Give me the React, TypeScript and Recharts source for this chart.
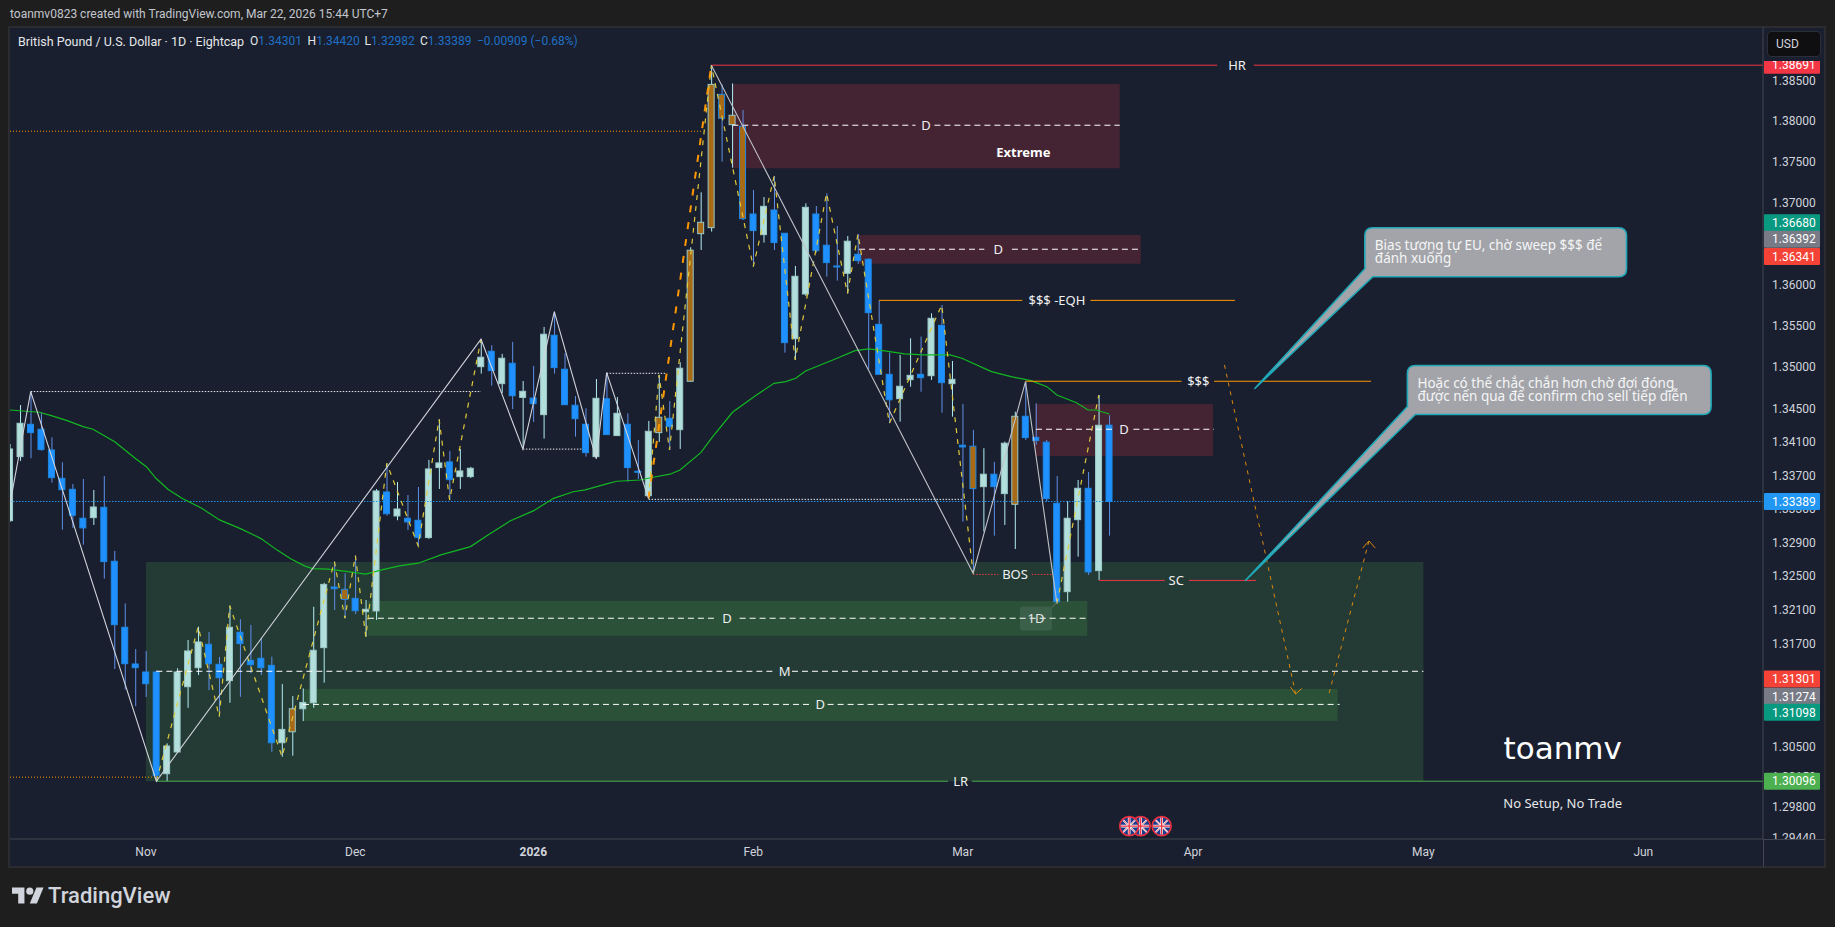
import React from 'react';
import {
  ComposedChart,
  Bar,
  Line,
  XAxis,
  YAxis,
  ReferenceArea,
  ReferenceLine,
  ReferenceDot,
} from 'recharts';

// GBP/USD daily candles
const opens = [
  1.3316, 1.33924, 1.34312, 1.34252, 1.34004, 1.33665, 1.33534, 1.33189, 1.33196, 1.33319,
  1.32678, 1.31898, 1.31466, 1.31372, 1.31372, 1.30183, 1.30436, 1.31199, 1.31422, 1.31698,
  1.31462, 1.3127, 1.31839, 1.31509, 1.31533, 1.3145, 1.30544, 1.30672, 1.30941, 1.31011,
  1.31658, 1.32373, 1.32346, 1.32239, 1.32081, 1.3209, 1.33502, 1.33216, 1.33189, 1.33165,
  1.32959, 1.33793, 1.33861, 1.33685, 1.33685, 1.35005, 1.35191, 1.348, 1.35046, 1.34635,
  1.34627, 1.34427, 1.35385, 1.34974, 1.3454, 1.34312, 1.33924, 1.34619, 1.34176, 1.34312,
  1.33749, 1.33457, 1.34212, 1.34384, 1.34247, 1.34829, 1.36619, 1.36692, 1.3833, 1.37956,
  1.37937, 1.36859, 1.36607, 1.36908, 1.36624, 1.35343, 1.35884, 1.36859, 1.36478, 1.36225,
  1.36136, 1.36368, 1.36307, 1.35517, 1.34913, 1.34619, 1.34848, 1.34913, 1.34896, 1.35505,
  1.348, 1.34061, 1.34049, 1.33565, 1.33714, 1.33482, 1.33355, 1.34408, 1.34156, 1.34097,
  1.33367, 1.32318, 1.33172, 1.33546, 1.32567, 1.34301,
];
const closes = [
  1.34016, 1.34324, 1.34212, 1.34008, 1.33673, 1.33529, 1.33224, 1.33074, 1.33323, 1.32674,
  1.31928, 1.31469, 1.31422, 1.31234, 1.30164, 1.30506, 1.31372, 1.31619, 1.31725, 1.31469,
  1.31304, 1.31898, 1.31705, 1.31458, 1.31422, 1.30544, 1.307, 1.30941, 1.31015, 1.31627,
  1.32404, 1.32353, 1.32227, 1.32093, 1.3211, 1.33514, 1.33243, 1.33299, 1.33145, 1.32959,
  1.33777, 1.33849, 1.33649, 1.33753, 1.33785, 1.35119, 1.34957, 1.35107, 1.34655, 1.34708,
  1.34559, 1.35397, 1.34993, 1.34547, 1.34379, 1.33972, 1.34624, 1.34188, 1.34444, 1.33793,
  1.33741, 1.34228, 1.34396, 1.34283, 1.34986, 1.36417, 1.36758, 1.38453, 1.38035, 1.38072,
  1.36802, 1.36656, 1.36953, 1.3651, 1.35295, 1.361, 1.36941, 1.36412, 1.36266, 1.36217,
  1.36527, 1.3629, 1.35658, 1.34913, 1.34606, 1.34769, 1.34901, 1.34872, 1.3559, 1.34812,
  1.34853, 1.3404, 1.33542, 1.33714, 1.33565, 1.34085, 1.34408, 1.34152, 1.34116, 1.33422,
  1.32199, 1.33189, 1.33546, 1.32551, 1.343, 1.33389,
];
const highs = [
  1.34076, 1.34543, 1.34703, 1.34447, 1.34156, 1.33857, 1.33598, 1.33657, 1.33526, 1.33693,
  1.32801, 1.3218, 1.31642, 1.31619, 1.31392, 1.30537, 1.31416, 1.31748, 1.31905, 1.31842,
  1.31548, 1.32152, 1.31992, 1.31925, 1.31768, 1.31552, 1.3123, 1.31089, 1.31179, 1.3214,
  1.32423, 1.32674, 1.32536, 1.32745, 1.32219, 1.33538, 1.33845, 1.33621, 1.33466, 1.33562,
  1.33885, 1.34372, 1.33993, 1.34016, 1.33801, 1.35336, 1.35264, 1.35159, 1.35304, 1.34832,
  1.35014, 1.35485, 1.3567, 1.35167, 1.34651, 1.34504, 1.34856, 1.34933, 1.34639, 1.34444,
  1.34124, 1.34352, 1.34905, 1.34591, 1.35058, 1.36453, 1.37125, 1.38691, 1.38453, 1.38465,
  1.38137, 1.37153, 1.37067, 1.37325, 1.36624, 1.36225, 1.3699, 1.36957, 1.37112, 1.36713,
  1.36591, 1.36616, 1.36319, 1.35803, 1.35174, 1.35147, 1.35348, 1.35368, 1.3565, 1.35751,
  1.35074, 1.34555, 1.34244, 1.34025, 1.33861, 1.34104, 1.34463, 1.34824, 1.34563, 1.34124,
  1.33693, 1.33394, 1.33645, 1.33741, 1.34663, 1.3442,
];
const lows = [
  1.33145, 1.33873, 1.33905, 1.33996, 1.33613, 1.33053, 1.33074, 1.32875, 1.33109, 1.32472,
  1.31407, 1.31168, 1.30972, 1.31078, 1.30096, 1.30098, 1.30436, 1.30952, 1.31336, 1.31159,
  1.30847, 1.31011, 1.31081, 1.31356, 1.31336, 1.30439, 1.30381, 1.30393, 1.30797, 1.30952,
  1.31246, 1.32101, 1.32004, 1.32054, 1.31787, 1.31984, 1.3322, 1.33165, 1.3305, 1.3286,
  1.32943, 1.33538, 1.33406, 1.33538, 1.33669, 1.34921, 1.34776, 1.34688, 1.34495, 1.34025,
  1.3434, 1.3414, 1.34921, 1.34543, 1.34164, 1.33924, 1.339, 1.34184, 1.34172, 1.33625,
  1.33657, 1.33426, 1.341, 1.34004, 1.34016, 1.34826, 1.3642, 1.36644, 1.37501, 1.37427,
  1.36786, 1.36217, 1.3651, 1.3642, 1.35174, 1.35086, 1.35859, 1.36388, 1.36095, 1.36047,
  1.35892, 1.3625, 1.34974, 1.34911, 1.34324, 1.34343, 1.34764, 1.34703, 1.34845, 1.34451,
  1.34403, 1.33148, 1.32536, 1.3303, 1.32982, 1.33109, 1.32824, 1.34124, 1.34064, 1.33386,
  1.3218, 1.32199, 1.32733, 1.32516, 1.32457, 1.32982,
];
const orangeBars = [27, 32, 62, 65, 66, 67, 68, 69, 70, 92, 96];

// moving average readings
const maBars = [
  0.02, 2.84, 3.97, 5.48, 7, 7.95, 10.02, 12.09, 13.04, 13.96, 15.1, 16.44, 18.33, 20.03, 22.08,
  23.99, 25.5, 26.82, 28.14, 28.9, 30.39, 32.3, 34, 35.51, 37.21, 39.01, 41.17, 44, 45.52, 47.77,
  50.04, 51.93, 53.82, 54.95, 57, 57.96, 60.19, 61.43, 63.05, 64, 65.99, 67.13, 69.02, 71.07,
  72.98, 74.11, 75.05, 76, 79, 80.72, 82.05, 83.55, 85.45, 87.31, 89.79, 90.92, 93.75, 95.62,
  97.53, 99.04, 100, 101.87, 102.97, 103.73, 105,
];
const maValues = [
  1.34483, 1.34456, 1.34415, 1.34355, 1.34283, 1.34252, 1.34103, 1.33893, 1.33804, 1.33665,
  1.33534, 1.33426, 1.33307, 1.33169, 1.33062, 1.32947, 1.32813, 1.32707, 1.32623, 1.32591,
  1.32584, 1.32556, 1.32525, 1.32576, 1.32623, 1.32655, 1.32753, 1.32852, 1.32979, 1.33157,
  1.33279, 1.33426, 1.33505, 1.33526, 1.33598, 1.3363, 1.33645, 1.33678, 1.33714, 1.33765,
  1.33972, 1.34164, 1.34456, 1.34643, 1.34804, 1.34824, 1.34865, 1.34953, 1.35106, 1.35198,
  1.35219, 1.35195, 1.35159, 1.35147, 1.35147, 1.35107, 1.34945, 1.34884, 1.34836, 1.34764,
  1.34663, 1.34571, 1.34483, 1.34483, 1.34435,
];

// swing drawings: [bar, price]
const whiteSwingA = [[0, 1.33347], [2, 1.34705], [14, 1.30096], [45, 1.35336], [49, 1.34014], [52, 1.3567], [56, 1.339], [57, 1.34933], [61, 1.33426]];
const whiteSwingB = [[67, 1.38691], [92, 1.32536], [97, 1.34824], [100, 1.3218]];
const yellowSwingA = [[14, 1.30096], [18, 1.31905], [20, 1.30847], [21, 1.32152], [26, 1.30381], [31, 1.32674], [32, 1.32004], [33, 1.32745], [34, 1.31787], [36, 1.33845], [39, 1.3286], [41, 1.34372], [42, 1.33406], [45, 1.35336]];
const yellowSwingB = [[61, 1.33426], [62, 1.34905], [63, 1.34004], [67, 1.38691], [71, 1.36217], [73, 1.37325], [75, 1.35086], [78, 1.37112], [80, 1.35892], [81, 1.36616], [84, 1.34324], [89, 1.35751], [92, 1.32536]];
const yellowSwingC = [[100, 1.3218], [104, 1.34663]];
const orangeSwing = [[61, 1.33426], [67, 1.38691]];
const projectionDown = [[116, 1.35026], [122.8, 1.31113]];
const projectionUp = [[126, 1.31125], [129.8, 1.32919]];
const arrowDown = [[122.3, 1.31196], [122.8, 1.31113], [123.4, 1.3118]];
const arrowUp = [[129.2, 1.32835], [129.8, 1.32919], [130.4, 1.32835]];

// zones: [fromBar, toBar, bottom, top]
const baseZone = [13, 135, 1.30096, 1.32669];
const demandZones = [[34.2, 102.9, 1.31799, 1.32207], [28.1, 126.8, 1.30797, 1.31171]];
const supplyZones = [[69, 106, 1.37421, 1.38457], [81.1, 108, 1.36253, 1.36603], [97.9, 114.9, 1.33933, 1.34555]];

// level segments: [fromBar, toBar, price]
const XMAX = 167.43;
const midSegments = [
  [69, 86.5, 1.37949], [88.3, 106, 1.37949],
  [81.1, 93.07, 1.36429], [95.7, 108, 1.36429],
  [98, 105.6, 1.34252], [107.3, 115, 1.34252],
  [34.2, 67.3, 1.32004], [69.7, 103, 1.32004],
  [14, 73.2, 1.3138], [74.7, 135, 1.3138],
  [28, 76.6, 1.30992], [78.1, 127, 1.30992],
];
const redSegments = [[67, 115.3, 1.38691], [118.8, XMAX, 1.38691], [104, 110.3, 1.32451], [112.6, 119, 1.32451]];
const orangeSegments = [[83, 96.7, 1.35807], [103.2, 117, 1.35807], [97, 111.9, 1.34829], [115, 130, 1.34829]];
const greenSegments = [[14, 89.6, 1.30096], [91.9, XMAX, 1.30096]];
const bosSegments = [[92, 94.4, 1.32522], [97.6, 99.6, 1.32522]];
const whiteDotted = [[2, 45, 1.34705], [49, 54.6, 1.34014], [57, 62.7, 1.34925], [61, 91, 1.33414]];
const orangeDotted = [[0.02, 66, 1.37875], [0.02, 14, 1.30143]];
const lastPriceDotted = [[0.02, XMAX, 1.33389]];

// text on the chart: [text, bar, price]
const levelLabels: [string, number, number][] = [
  ['HR', 117.2, 1.38691], ['D', 87.5, 1.37949], ['D', 94.4, 1.36429], ['$$$ -EQH', 100, 1.35807],
  ['$$$', 113.5, 1.34829], ['D', 106.4, 1.34252], ['BOS', 96, 1.32522], ['SC', 111.4, 1.32451],
  ['D', 68.5, 1.32004], ['M', 74, 1.3138], ['D', 77.4, 1.30992], ['LR', 90.8, 1.30096],
];

// axis ticks
const monthBars = [13, 33, 50, 71, 91, 113, 135, 156];
const monthLabels = ['Nov', 'Dec', '2026', 'Feb', 'Mar', 'Apr', 'May', 'Jun'];
const priceTicks = [
  1.385, 1.38, 1.375, 1.37, 1.36, 1.355, 1.35, 1.345, 1.341, 1.337, 1.333, 1.329, 1.325, 1.321,
  1.317, 1.305, 1.3015, 1.298, 1.2944,
];
const tagPrices = [1.38691, 1.3668, 1.36392, 1.36341, 1.33389, 1.31301, 1.31274, 1.31098, 1.30096];
const tagColors = ['#f23645', '#089981', '#787b86', '#f44336', '#2196f3', '#f44336', '#787b86', '#089981', '#4caf50'];
const tagShifts = [0, -6, -13, 0, 0, 1, 16, 17, 0];
const flagBars = [108, 106.9, 110];

const UI_FONT = "Roboto, 'Noto Sans', sans-serif";
const TEXT_FONT = "'Noto Sans', 'DejaVu Sans', sans-serif";
const PANEL = '#191f2e';
const YMIN = 1.29426;
const YMAX = 1.39165;

const toPoints = (pairs: number[][]) => pairs.map(([i, p]) => ({ i, p }));

const candles = highs.map((h, i) => {
  const o = opens[i];
  const c = closes[i];
  return {
    i,
    wick: [lows[i], h],
    body: [Math.min(o, c), Math.max(o, c)],
    up: c >= o,
    orange: orangeBars.includes(i),
  };
});
const maPoints = maBars.map((i, k) => ({ i, p: maValues[k] }));

const CandleBody = ({ x, y, width, height, payload }: any) => {
  const up = payload.up;
  const fill = payload.orange ? '#a86a14' : up ? '#b2dfdb' : '#1e90ff';
  const stroke = up ? '#9cc9c9' : '#1e88e5';
  return <rect x={x} y={y} width={width} height={Math.max(height, 1)} fill={fill} stroke={stroke} strokeWidth={1} />;
};

const CandleWick = ({ x, y, width, height, payload }: any) => (
  <rect x={x} y={y} width={width} height={height} fill={payload.up ? '#b2ebf2' : '#5f8fe8'} />
);

const PriceTick = ({ x, y, payload }: any) => {
  const id = `price-clip-${payload.value}`;
  // the bottom tick is cut by the time axis, two others sit mostly under a price tag
  let top = y - 12;
  let bottom = Math.min(y + 12, 839);
  if (payload.value === 1.333) top = 510;
  if (payload.value === 1.3015) bottom = 773;
  return (
    <g>
      <clipPath id={id}>
        <rect x={x - 4} y={top} width={60} height={bottom - top} />
      </clipPath>
      <text x={x + 1} y={y} dy="0.35em" fontSize={12} fontFamily={UI_FONT} fill="#d1d4dc" clipPath={`url(#${id})`}>
        {payload.value.toFixed(5)}
      </text>
    </g>
  );
};

const MonthTick = ({ x, y, payload }: any) => {
  const label = monthLabels[monthBars.indexOf(payload.value)];
  return (
    <text x={x} y={y + 9} textAnchor="middle" fontSize={12} fontWeight={label === '2026' ? 700 : 400} fontFamily={UI_FONT} fill="#d1d4dc">
      {label}
    </text>
  );
};

const PriceTag = ({ cx, cy, k }: any) => (
  <g>
    <rect x={cx + 1} y={cy + tagShifts[k] - 8.5} width={56} height={17} fill={tagColors[k]} rx={1} />
    <text x={cx + 9} y={cy + tagShifts[k]} dy="0.35em" fontSize={12} fontFamily={UI_FONT} fill="#ffffff">
      {tagPrices[k].toFixed(5)}
    </text>
  </g>
);

const Flag = ({ cx, cy, k }: any) => {
  const id = `flag-clip-${k}`;
  return (
    <g>
      <clipPath id={id}>
        <circle cx={cx} cy={cy} r={8.5} />
      </clipPath>
      <circle cx={cx} cy={cy} r={9.5} fill="#1d3b8b" stroke="#e8303f" strokeWidth={1.6} />
      <g clipPath={`url(#${id})`}>
        <path d={`M${cx - 9} ${cy - 9}L${cx + 9} ${cy + 9}M${cx + 9} ${cy - 9}L${cx - 9} ${cy + 9}`} stroke="#fff" strokeWidth={1.8} />
        <path d={`M${cx - 9} ${cy - 9}L${cx + 9} ${cy + 9}M${cx + 9} ${cy - 9}L${cx - 9} ${cy + 9}`} stroke="#e8303f" strokeWidth={0.6} />
        <path d={`M${cx} ${cy - 9}V${cy + 9}M${cx - 9} ${cy}H${cx + 9}`} stroke="#fff" strokeWidth={2.6} />
        <path d={`M${cx} ${cy - 9}V${cy + 9}M${cx - 9} ${cy}H${cx + 9}`} stroke="#e8303f" strokeWidth={1.3} />
      </g>
    </g>
  );
};

// speech bubble anchored at its tip
const Callout = ({ cx, cy, dx, dy, w, h, lines }: any) => {
  const x0 = cx + dx;
  const y0 = cy + dy;
  const x1 = x0 + w;
  const y1 = y0 + h;
  const r = 8;
  const d = `M${cx} ${cy}L${x0} ${y1 - r}V${y0 + r}Q${x0} ${y0} ${x0 + r} ${y0}H${x1 - r}Q${x1} ${y0} ${x1} ${y0 + r}V${y1 - r}Q${x1} ${y1} ${x1 - r} ${y1}H${x0 + r}Z`;
  return (
    <g>
      <path d={d} fill="#a2a4aa" stroke="#1fa8b8" strokeWidth={1.6} strokeLinejoin="round" />
      {lines.map((t: string, n: number) => (
        <text key={n} x={x0 + 10} y={y0 + 18 + n * 13.5} dy="0.3em" fontSize={13.5} fontFamily={TEXT_FONT} fill="#f5f5f5">
          {t}
        </text>
      ))}
    </g>
  );
};

const segmentLines = (segments: number[][], style: any, prefix: string) =>
  segments.map(([from, to, price], n) => (
    <ReferenceLine
      key={`${prefix}-${n}`}
      segment={[{ x: from, y: price }, { x: to, y: price }]}
      {...style}
    />
  ));

const swingLine = (pairs: number[][], key: string, stroke: string, width: number, dash?: string) => (
  <Line
    key={key}
    data={toPoints(pairs)}
    dataKey="p"
    stroke={stroke}
    strokeWidth={width}
    strokeDasharray={dash}
    dot={false}
    activeDot={false}
    legendType="none"
    isAnimationActive={false}
  />
);

const App = () => {
  return (
    <div style={{ position: 'absolute', left: 0, top: 0, width: 1835, height: 927, background: '#1e1e1e', overflow: 'hidden', fontFamily: UI_FONT }}>
      <div style={{ position: 'absolute', left: 10, top: 7, fontSize: 12, color: '#c3c6ce', whiteSpace: 'nowrap' }}>
        toanmv0823 created with TradingView.com, Mar 22, 2026 15:44 UTC+7
      </div>

      {/* panel */}
      <div style={{ position: 'absolute', left: 8, top: 26, width: 1818, height: 842, boxSizing: 'border-box', background: PANEL, border: '2px solid #2b2c30' }} />

      <div style={{ position: 'absolute', left: 0, top: 0 }}>
        <ComposedChart
          width={1835}
          height={927}
          data={candles}
          margin={{ top: 27, right: 0, bottom: 60, left: 10 }}
          barGap={0}
        >
          <XAxis
            dataKey="i"
            type="number"
            domain={[0.02, XMAX]}
            allowDataOverflow
            ticks={monthBars}
            interval={0}
            height={28}
            stroke="#434651"
            tickLine={false}
            tick={<MonthTick />}
          />
          <XAxis xAxisId="wick" dataKey="i" type="number" domain={[0.02, XMAX]} allowDataOverflow hide />
          <XAxis xAxisId="body" dataKey="i" type="number" domain={[0.02, XMAX]} allowDataOverflow hide />
          <YAxis
            orientation="right"
            scale="log"
            domain={[YMIN, YMAX]}
            allowDataOverflow
            ticks={priceTicks}
            interval={0}
            width={72}
            stroke="#434651"
            tickLine={false}
            tick={<PriceTick />}
          />

          <ReferenceArea x1={baseZone[0]} x2={baseZone[1]} y1={baseZone[2]} y2={baseZone[3]} fill="#4caf50" fillOpacity={0.2} stroke="none" />
          {demandZones.map((z, n) => (
            <ReferenceArea key={`demand-${n}`} x1={z[0]} x2={z[1]} y1={z[2]} y2={z[3]} fill="#4caf50" fillOpacity={0.2} stroke="none" />
          ))}
          {supplyZones.map((z, n) => (
            <ReferenceArea key={`supply-${n}`} x1={z[0]} x2={z[1]} y1={z[2]} y2={z[3]} fill="#f23645" fillOpacity={0.2} stroke="none" />
          ))}

          {segmentLines(orangeDotted, { stroke: '#ff9800', strokeDasharray: '1 2' }, 'odot')}
          {segmentLines(whiteDotted, { stroke: '#e8eaf0', strokeDasharray: '1.5 1.5' }, 'wdot')}
          {segmentLines(lastPriceDotted, { stroke: '#2196f3', strokeDasharray: '1.5 1.5' }, 'last')}

          <Line data={maPoints} dataKey="p" stroke="#12b822" strokeWidth={1.2} dot={false} activeDot={false} legendType="none" isAnimationActive={false} />

          <Bar xAxisId="wick" dataKey="wick" barSize={1} shape={<CandleWick />} isAnimationActive={false} />
          <Bar xAxisId="body" dataKey="body" barSize={6} shape={<CandleBody />} isAnimationActive={false} />

          {segmentLines(midSegments, { stroke: '#ffffff', strokeDasharray: '6 4' }, 'mid')}
          {segmentLines(redSegments, { stroke: '#f23645' }, 'red')}
          {segmentLines(orangeSegments, { stroke: '#ff9800' }, 'orange')}
          {segmentLines(greenSegments, { stroke: '#4caf50' }, 'green')}
          {segmentLines(bosSegments, { stroke: '#f23645', strokeDasharray: '1.5 1.5' }, 'bos')}

          {swingLine(yellowSwingA, 'ya', '#e0c93c', 1.2, '5 6')}
          {swingLine(yellowSwingB, 'yb', '#e0c93c', 1.2, '5 6')}
          {swingLine(yellowSwingC, 'yc', '#e0c93c', 1.2, '5 6')}
          {swingLine(orangeSwing, 'orange-swing', '#ff9800', 2, '7 10')}
          {swingLine(whiteSwingA, 'wa', '#d1d4dc', 1.1)}
          {swingLine(whiteSwingB, 'wb', '#c0c2c9', 1.1)}
          {swingLine(projectionDown, 'pd', '#d8870f', 1, '4 5')}
          {swingLine(projectionUp, 'pu', '#d8870f', 1, '4 5')}
          {swingLine(arrowDown, 'ad', '#d8870f', 1)}
          {swingLine(arrowUp, 'au', '#d8870f', 1)}

          {levelLabels.map(([text, bar, price], n) => (
            <ReferenceDot
              key={`label-${n}`}
              x={bar}
              y={price}
              r={0}
              ifOverflow="visible"
              shape={(p: any) => (
                <text x={p.cx} y={p.cy} dy="0.35em" textAnchor="middle" fontSize={13} fontFamily={TEXT_FONT} fill="#f0f0f2">
                  {text}
                </text>
              )}
            />
          ))}
          <ReferenceDot
            x={96.8}
            y={1.3761}
            r={0}
            ifOverflow="visible"
            shape={(p: any) => (
              <text x={p.cx} y={p.cy} dy="0.35em" textAnchor="middle" fontSize={13} fontWeight={700} fontFamily={TEXT_FONT} fill="#ffffff">
                Extreme
              </text>
            )}
          />
          <ReferenceDot
            x={98}
            y={1.32}
            r={0}
            ifOverflow="visible"
            shape={(p: any) => (
              <g>
                <path d={`M${p.cx + 16} ${p.cy - 11}L${p.cx + 21} ${p.cy - 17}`} stroke="#5c7268" strokeWidth={1} />
                <rect x={p.cx - 16} y={p.cy - 12} width={32} height={24} rx={3} fill="#ffffff" fillOpacity={0.08} />
                <text x={p.cx} y={p.cy} dy="0.35em" textAnchor="middle" fontSize={13} fontFamily={TEXT_FONT} fill="#e4e6ea">
                  1D
                </text>
              </g>
            )}
          />

          <ReferenceDot
            x={118.9}
            y={1.34742}
            r={0}
            ifOverflow="visible"
            shape={(p: any) => (
              <Callout cx={p.cx} cy={p.cy} dx={110} dy={-160.7} w={261.7} h={49} lines={['Bias tương tự EU, chờ sweep $$$ để', 'đánh xuống']} />
            )}
          />
          <ReferenceDot
            x={118}
            y={1.3245}
            r={0}
            ifOverflow="visible"
            shape={(p: any) => (
              <Callout cx={p.cx} cy={p.cy} dx={162} dy={-215} w={303.7} h={49} lines={['Hoặc có thể chắc chắn hơn chờ đợi đóng', 'được nến qua để confirm cho sell tiếp diễn']} />
            )}
          />

          <ReferenceDot
            x={148.3}
            y={1.30478}
            r={0}
            ifOverflow="visible"
            shape={(p: any) => (
              <text x={p.cx} y={p.cy} dy="0.35em" textAnchor="middle" fontSize={31} fontFamily="'DejaVu Sans', sans-serif" fill="#ffffff">
                toanmv
              </text>
            )}
          />
          <ReferenceDot
            x={148.3}
            y={1.2984}
            r={0}
            ifOverflow="visible"
            shape={(p: any) => (
              <text x={p.cx} y={p.cy} dy="0.35em" textAnchor="middle" fontSize={13} fontFamily={TEXT_FONT} fill="#e6e7ea">
                No Setup, No Trade
              </text>
            )}
          />

          {flagBars.map((bar, k) => (
            <ReferenceDot key={`flag-${k}`} x={bar} y={1.29575} r={0} ifOverflow="visible" shape={(p: any) => <Flag cx={p.cx} cy={p.cy} k={k} />} />
          ))}

          {tagPrices.map((price, k) => (
            <ReferenceDot key={`tag-${k}`} x={XMAX} y={price} r={0} ifOverflow="visible" shape={(p: any) => <PriceTag cx={p.cx} cy={p.cy} k={k} />} />
          ))}
        </ComposedChart>
      </div>

      {/* legend row */}
      <div style={{ position: 'absolute', left: 18, top: 34, fontSize: 12.5, color: '#e6e7ea', whiteSpace: 'nowrap' }}>
        British Pound / U.S. Dollar · 1D · Eightcap
      </div>
      {[
        ['O', '1.34301', 250],
        ['H', '1.34420', 307.6],
        ['L', '1.32982', 364.6],
        ['C', '1.33389', 420],
      ].map(([name, value, left]) => (
        <div key={name as string} style={{ position: 'absolute', left: left as number, top: 34, fontSize: 12, color: '#e6e7ea', whiteSpace: 'nowrap' }}>
          {name}
          <span style={{ color: '#1f6fc4' }}>{value}</span>
        </div>
      ))}
      <div style={{ position: 'absolute', left: 477, top: 34, fontSize: 12, color: '#1f6fc4', whiteSpace: 'nowrap' }}>
        −0.00909 (−0.68%)
      </div>

      {/* currency button and axis corner */}
      <div style={{ position: 'absolute', left: 1764, top: 28, width: 60, height: 33, background: PANEL }} />
      <div style={{ position: 'absolute', left: 1767, top: 31, width: 54, height: 26, boxSizing: 'border-box', background: '#0f0f11', border: '1px solid #2a2e39', borderRadius: 4, color: '#d1d4dc', fontSize: 12, lineHeight: '24px', paddingLeft: 8 }}>
        USD
      </div>
      <div style={{ position: 'absolute', left: 1763, top: 839, width: 62, height: 1, background: '#434651' }} />
      <div style={{ position: 'absolute', left: 1763, top: 839, width: 1, height: 28, background: '#434651' }} />

      {/* footer logo */}
      <svg style={{ position: 'absolute', left: 12, top: 884 }} width={32} height={25} viewBox="0 0 36 28">
        <path d="M14 22H7V11H0V4h14v18zM28 22h-8l7.5-18h8L28 22z" fill="#d1d4dc" />
        <circle cx={20} cy={8} r={4} fill="#d1d4dc" />
      </svg>
      <div style={{ position: 'absolute', left: 48, top: 883, fontSize: 22, fontWeight: 500, color: '#d1d4dc', whiteSpace: 'nowrap' }}>
        TradingView
      </div>
    </div>
  );
};

export default App;
